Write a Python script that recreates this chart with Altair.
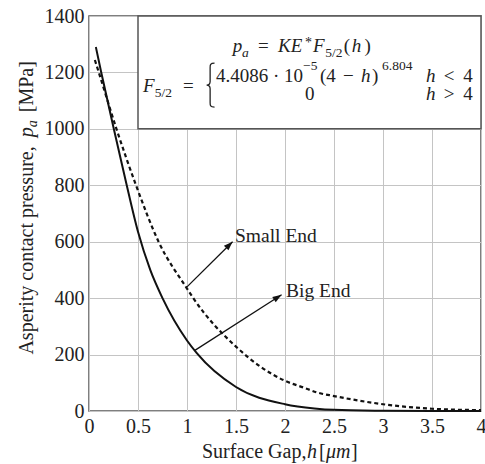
import math
import altair as alt
import pandas as pd

# ---------------- data ----------------
# Big End (solid line): surface gap h [um] -> asperity contact pressure [MPa]
big_h = [0.07, 0.125, 0.25, 0.375, 0.5, 0.625, 0.75, 1.0, 1.1, 1.5, 2.0, 2.3, 2.5, 3.0, 3.5, 4.0]
big_p = [1290, 1200, 1005, 815, 635, 500, 400, 250, 205, 85, 24, 9, 4, 1, 0, 0]
# Small End (dashed line)
small_h = [0.06, 0.10, 0.28, 0.48, 0.71, 1.0, 1.064, 1.5, 2.0, 2.19, 2.335, 2.5, 3.0, 3.5, 4.0]
small_p = [1244, 1200, 1000, 800, 600, 434, 400, 228, 107, 83, 65, 53, 24, 8, 3]

x_ticks = [0, 0.5, 1, 1.5, 2, 2.5, 3, 3.5, 4]
y_ticks = [0, 200, 400, 600, 800, 1000, 1200, 1400]

# ---------------- styling ----------------
W, H = 392, 395
FONT = "Liberation Serif"
INK = "#222222"
FRAME = "#555555"
XS = alt.Scale(domain=[0, 4], nice=False, zero=False)
YS = alt.Scale(domain=[0, 1400], nice=False, zero=False)

AXX = alt.Axis(
    values=x_ticks, format="~g", grid=True, ticks=False, domain=False,
    labelFont=FONT, labelFontSize=20, labelColor=INK, labelPadding=5,
    labelFlush=False, labelOverlap=False, gridColor="#c4c4c4", gridWidth=1)
AXY = alt.Axis(
    values=y_ticks, format="d", grid=True, ticks=False, domain=False,
    labelFont=FONT, labelFontSize=20, labelColor=INK, labelPadding=5,
    labelOverlap=False, gridColor="#c4c4c4", gridWidth=1)


def xenc(field="x"):
    return alt.X(f"{field}:Q", scale=XS, title="", axis=AXX)


def yenc(field="y"):
    return alt.Y(f"{field}:Q", scale=YS, title="", axis=AXY)


# ---------------- curves ----------------
big = alt.Chart(pd.DataFrame({"x": big_h, "y": big_p})).mark_line(
    color="#111111", strokeWidth=2, interpolate="monotone"
).encode(x=xenc(), y=yenc())

small = alt.Chart(pd.DataFrame({"x": small_h, "y": small_p})).mark_line(
    color="#111111", strokeWidth=2.2, strokeDash=[4, 3], interpolate="monotone"
).encode(x=xenc(), y=yenc())

# ---------------- equation box ----------------
box = alt.Chart(pd.DataFrame({"x": [0.5], "x2": [4.0], "y": [1000], "y2": [1400]})).mark_rect(
    fill="white", stroke=FRAME, strokeWidth=1.5
).encode(x=xenc(), x2="x2:Q", y=yenc(), y2="y2:Q")

# brace of the piecewise definition, drawn as a stroked symbol
BRACE = ("M0.16,-1 C-0.04,-1 -0.04,-0.92 -0.04,-0.8 L-0.04,-0.16 C-0.04,-0.05 -0.1,0 -0.2,0 "
         "C-0.1,0 -0.04,0.05 -0.04,0.16 L-0.04,0.8 C-0.04,0.92 -0.04,1 0.16,1")
brace = alt.Chart(pd.DataFrame({"x": [1.245], "y": [1155]})).mark_point(
    shape=BRACE, size=44 * 44, filled=False, stroke=INK, strokeWidth=1.3, opacity=1
).encode(x=xenc(), y=yenc())

# ---------------- arrows ----------------
arrow_x = [1.0, 1.08]
arrow_y = [440, 215]
tip_x = [1.465, 1.965]
tip_y = [600, 412]
ang = []
for x1, y1, x2, y2 in zip(arrow_x, arrow_y, tip_x, tip_y):
    dx = (x2 - x1) * W / 4
    dy = -(y2 - y1) * H / 1400
    ang.append(math.degrees(math.atan2(dx, -dy)))

arrows_df = pd.DataFrame({"x": arrow_x, "y": arrow_y, "x2": tip_x, "y2": tip_y, "a": ang})
shafts = alt.Chart(arrows_df).mark_rule(color="#111111", strokeWidth=1.3).encode(
    x=xenc(), y=yenc(), x2="x2:Q", y2="y2:Q")
HEAD = "M0,0 L0.36,1 L-0.36,1 Z"
heads = alt.Chart(arrows_df).mark_point(
    shape=HEAD, filled=True, size=18 * 18, color="#111111", opacity=1
).encode(x=xenc("x2"), y=yenc("y2"), angle=alt.Angle("a:Q", scale=None))

# ---------------- text pieces (text, h, MPa, size, italic, angle) ----------------
pieces = [
    # equation line 1: p_a = K E* F_{5/2}(h)
    ("p", 1.467, 1272, 19, True, 0),
    ("a", 1.561, 1254, 13.5, True, 0),
    ("=", 1.724, 1272, 19, False, 0),
    ("KE", 1.929, 1272, 19, True, 0),
    ("*", 2.204, 1290, 14, False, 0),
    ("F", 2.286, 1272, 19, True, 0),
    ("5/2", 2.41, 1254, 13.5, False, 0),
    ("(", 2.60, 1272, 19, False, 0),
    ("h", 2.68, 1272, 19, True, 0),
    (")", 2.81, 1272, 19, False, 0),
    # F_{5/2} =
    ("F", 0.551, 1130, 19, True, 0),
    ("5/2", 0.672, 1112, 13.5, False, 0),
    ("=", 0.959, 1130, 19, False, 0),
    # case 1
    ("4.4086 · 10", 1.296, 1166, 19, False, 0),
    ("−5", 2.184, 1208, 13.5, False, 0),
    ("(4", 2.357, 1166, 19, False, 0),
    ("−", 2.592, 1166, 19, False, 0),
    ("h", 2.775, 1166, 19, True, 0),
    (")", 2.888, 1166, 19, False, 0),
    ("6.804", 2.99, 1208, 13.5, False, 0),
    ("h", 3.44, 1166, 19, True, 0),
    ("<", 3.62, 1166, 19, False, 0),
    ("4", 3.82, 1166, 19, False, 0),
    # case 2
    ("0", 2.204, 1102, 19, False, 0),
    ("h", 3.44, 1102, 19, True, 0),
    (">", 3.62, 1102, 19, False, 0),
    ("4", 3.82, 1102, 19, False, 0),
    # curve labels
    ("Small End", 1.49, 599, 19.5, False, 0),
    ("Big End", 2.01, 404, 19.5, False, 0),
    # x axis title
    ("Surface Gap,", 1.153, -166, 20, False, 0),
    ("h", 2.224, -166, 20, True, 0),
    ("[", 2.347, -166, 20, False, 0),
    ("μm", 2.418, -166, 20, True, 0),
    ("]", 2.673, -166, 20, False, 0),
    # y axis title (rotated)
    ("Asperity contact pressure,", -0.571, 200, 20, False, 270),
    ("p", -0.571, 970, 20, True, 270),
    ("a", -0.531, 1006, 14, True, 270),
    ("[MPa]", -0.571, 1059, 20, False, 270),
]
tdf = pd.DataFrame(pieces, columns=["t", "x", "y", "s", "it", "a"])


def text_layer(df, italic):
    return alt.Chart(df).mark_text(
        font=FONT, fontStyle="italic" if italic else "normal",
        align="left", baseline="alphabetic", color=INK
    ).encode(
        x=xenc(), y=yenc(), text="t:N",
        size=alt.Size("s:Q", scale=None),
        angle=alt.Angle("a:Q", scale=None),
    )


texts_up = text_layer(tdf[~tdf["it"]], False)
texts_it = text_layer(tdf[tdf["it"]], True)

chart = alt.layer(
    big, box, small, brace, shafts, heads, texts_up, texts_it
).properties(
    width=W, height=H,
    background="white",
    autosize=alt.AutoSizeParams(type="none"),
    padding={"left": 89, "top": 16, "right": 4, "bottom": 53},
).configure_view(
    stroke=FRAME, strokeWidth=1.5
)

chart.save("out.html", embed_options={"renderer": "svg", "actions": False})
